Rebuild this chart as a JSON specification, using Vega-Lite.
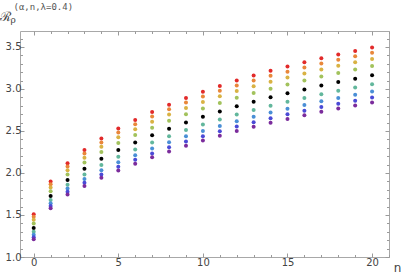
{
  "$schema": "https://vega.github.io/schema/vega-lite/v6.json",
  "autosize": {"type": "none"},
  "width": 369,
  "height": 226,
  "padding": {"left": 20, "top": 31, "right": 15, "bottom": 18},
  "background": "white",
  "config": {
    "view": {"stroke": "#a8a8a8", "strokeWidth": 1},
    "axis": {
      "grid": false,
      "domain": false,
      "tickColor": "#9a9a9a",
      "labelFont": "DejaVu Sans",
      "labelFontSize": 10,
      "labelColor": "#444444",
      "titleFont": "DejaVu Sans",
      "titleFontWeight": "normal",
      "titleColor": "#444444"
    }
  },
  "data": {
    "values": [
      {"n": 0, "s1": 1.510, "s2": 1.479, "s3": 1.442, "s4": 1.399, "s5": 1.345, "s6": 1.300, "s7": 1.264, "s8": 1.234, "s9": 1.210},
      {"n": 1, "s1": 1.898, "s2": 1.865, "s3": 1.827, "s4": 1.783, "s5": 1.726, "s6": 1.678, "s7": 1.639, "s8": 1.607, "s9": 1.581},
      {"n": 2, "s1": 2.115, "s2": 2.077, "s3": 2.034, "s4": 1.982, "s5": 1.917, "s6": 1.860, "s7": 1.814, "s8": 1.776, "s9": 1.745},
      {"n": 3, "s1": 2.273, "s2": 2.231, "s3": 2.182, "s4": 2.124, "s5": 2.051, "s6": 1.983, "s7": 1.928, "s8": 1.883, "s9": 1.846},
      {"n": 4, "s1": 2.410, "s2": 2.364, "s3": 2.312, "s4": 2.249, "s5": 2.170, "s6": 2.095, "s7": 2.033, "s8": 1.983, "s9": 1.942},
      {"n": 5, "s1": 2.529, "s2": 2.481, "s3": 2.424, "s4": 2.358, "s5": 2.274, "s6": 2.194, "s7": 2.128, "s8": 2.075, "s9": 2.031},
      {"n": 6, "s1": 2.631, "s2": 2.580, "s3": 2.522, "s4": 2.452, "s5": 2.364, "s6": 2.281, "s7": 2.212, "s8": 2.157, "s9": 2.111},
      {"n": 7, "s1": 2.725, "s2": 2.672, "s3": 2.611, "s4": 2.539, "s5": 2.448, "s6": 2.362, "s7": 2.291, "s8": 2.233, "s9": 2.186},
      {"n": 8, "s1": 2.812, "s2": 2.758, "s3": 2.695, "s4": 2.621, "s5": 2.527, "s6": 2.438, "s7": 2.365, "s8": 2.306, "s9": 2.257},
      {"n": 9, "s1": 2.894, "s2": 2.839, "s3": 2.774, "s4": 2.698, "s5": 2.602, "s6": 2.511, "s7": 2.436, "s8": 2.375, "s9": 2.325},
      {"n": 10, "s1": 2.968, "s2": 2.911, "s3": 2.846, "s4": 2.768, "s5": 2.670, "s6": 2.577, "s7": 2.500, "s8": 2.438, "s9": 2.387},
      {"n": 11, "s1": 3.036, "s2": 2.978, "s3": 2.912, "s4": 2.833, "s5": 2.733, "s6": 2.638, "s7": 2.560, "s8": 2.496, "s9": 2.444},
      {"n": 12, "s1": 3.101, "s2": 3.042, "s3": 2.975, "s4": 2.895, "s5": 2.793, "s6": 2.696, "s7": 2.617, "s8": 2.552, "s9": 2.499},
      {"n": 13, "s1": 3.161, "s2": 3.102, "s3": 3.033, "s4": 2.952, "s5": 2.849, "s6": 2.751, "s7": 2.670, "s8": 2.605, "s9": 2.551},
      {"n": 14, "s1": 3.216, "s2": 3.156, "s3": 3.086, "s4": 3.004, "s5": 2.900, "s6": 2.800, "s7": 2.719, "s8": 2.652, "s9": 2.598},
      {"n": 15, "s1": 3.267, "s2": 3.206, "s3": 3.136, "s4": 3.053, "s5": 2.948, "s6": 2.847, "s7": 2.765, "s8": 2.698, "s9": 2.643},
      {"n": 16, "s1": 3.317, "s2": 3.256, "s3": 3.185, "s4": 3.101, "s5": 2.995, "s6": 2.893, "s7": 2.810, "s8": 2.742, "s9": 2.687},
      {"n": 17, "s1": 3.365, "s2": 3.303, "s3": 3.232, "s4": 3.147, "s5": 3.040, "s6": 2.937, "s7": 2.853, "s8": 2.784, "s9": 2.728},
      {"n": 18, "s1": 3.410, "s2": 3.348, "s3": 3.276, "s4": 3.190, "s5": 3.082, "s6": 2.978, "s7": 2.893, "s8": 2.824, "s9": 2.767},
      {"n": 19, "s1": 3.452, "s2": 3.389, "s3": 3.317, "s4": 3.231, "s5": 3.122, "s6": 3.017, "s7": 2.931, "s8": 2.861, "s9": 2.804},
      {"n": 20, "s1": 3.495, "s2": 3.432, "s3": 3.358, "s4": 3.272, "s5": 3.162, "s6": 3.056, "s7": 2.969, "s8": 2.898, "s9": 2.840}
    ]
  },
  "transform": [
    {"fold": ["s1", "s2", "s3", "s4", "s5", "s6", "s7", "s8", "s9"], "as": ["series", "value"]}
  ],
  "resolve": {"axis": {"x": "independent", "y": "independent"}},
  "layer": [
    {
      "mark": {"type": "circle", "size": 16, "opacity": 1},
      "encoding": {
        "x": {
          "field": "n", "type": "quantitative",
          "scale": {"domain": [-0.81, 21.0], "nice": false, "zero": false},
          "axis": {
            "orient": "bottom",
            "values": [0,1,2,3,4,5,6,7,8,9,10,11,12,13,14,15,16,17,18,19,20,21],
            "labelExpr": "datum.value % 5 === 0 ? datum.label : ''",
            "tickSize": {"condition": {"test": "datum.value % 5 === 0", "value": -4}, "value": -2.5},
            "labelPadding": 4,
            "title": "n",
            "titleFontSize": 12,
            "titleAngle": 0,
            "titleAlign": "center",
            "titleBaseline": "alphabetic",
            "titleX": 377,
            "titleY": 14
          }
        },
        "y": {
          "field": "value", "type": "quantitative",
          "scale": {"domain": [1.0, 3.69], "nice": false, "zero": false},
          "axis": {
            "orient": "left",
            "values": [1.0,1.1,1.2,1.3,1.4,1.5,1.6,1.7,1.8,1.9,2.0,2.1,2.2,2.3,2.4,2.5,2.6,2.7,2.8,2.9,3.0,3.1,3.2,3.3,3.4,3.5,3.6],
            "format": ".1f",
            "labelExpr": "abs(datum.value*2 - round(datum.value*2)) < 0.001 ? datum.label : ''",
            "tickSize": {"condition": {"test": "abs(datum.value*2 - round(datum.value*2)) < 0.001", "value": -4}, "value": -2.5},
            "labelPadding": 3,
            "title": "ℛ",
            "titleFont": "DejaVu Serif",
            "titleFontSize": 13,
            "titleAngle": 0,
            "titleAlign": "center",
            "titleBaseline": "alphabetic",
            "titleX": -15,
            "titleY": -11
          }
        },
        "color": {
          "field": "series", "type": "nominal", "legend": null,
          "scale": {
            "domain": ["s1", "s2", "s3", "s4", "s5", "s6", "s7", "s8", "s9"],
            "range": ["#e22a2a", "#e9873a", "#d9b243", "#a2c25c", "#000000", "#62b79c", "#4a8fd6", "#4a4ad6", "#7b2c9c"]
          }
        }
      }
    },
    {
      "mark": {"type": "circle", "size": 16, "opacity": 0},
      "encoding": {
        "x": {
          "field": "n", "type": "quantitative",
          "axis": {
            "orient": "top",
            "values": [0,1,2,3,4,5,6,7,8,9,10,11,12,13,14,15,16,17,18,19,20,21],
            "labels": false,
            "tickSize": {"condition": {"test": "datum.value % 5 === 0", "value": -4}, "value": -2.5},
            "title": "(α,n,λ=0.4)",
            "titleFont": "DejaVu Sans Mono",
            "titleFontSize": 9,
            "titleColor": "#555555",
            "titleAngle": 0,
            "titleAlign": "left",
            "titleBaseline": "alphabetic",
            "titleX": -7,
            "titleY": -22
          }
        },
        "y": {
          "field": "value", "type": "quantitative",
          "axis": {
            "orient": "right",
            "values": [1.0,1.1,1.2,1.3,1.4,1.5,1.6,1.7,1.8,1.9,2.0,2.1,2.2,2.3,2.4,2.5,2.6,2.7,2.8,2.9,3.0,3.1,3.2,3.3,3.4,3.5,3.6],
            "labels": false,
            "tickSize": {"condition": {"test": "abs(datum.value*2 - round(datum.value*2)) < 0.001", "value": -4}, "value": -2.5},
            "title": "ρ",
            "titleFont": "DejaVu Serif",
            "titleFontSize": 9,
            "titleAngle": 0,
            "titleAlign": "left",
            "titleBaseline": "alphabetic",
            "titleX": -379,
            "titleY": -9
          }
        }
      }
    }
  ]
}
